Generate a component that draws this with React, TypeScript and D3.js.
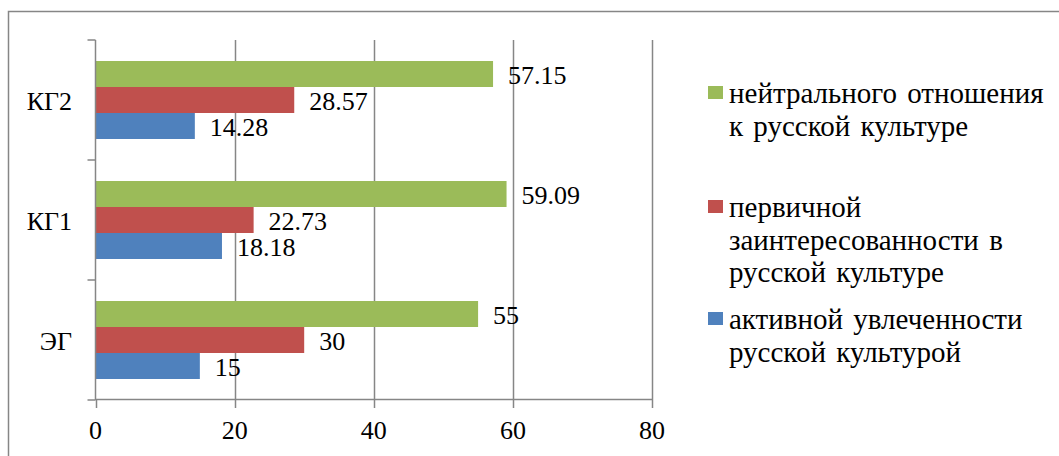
import React from 'react';
import * as d3 from 'd3';

const categories = ['КГ2', 'КГ1', 'ЭГ'];
const neutral = [57.15, 59.09, 55];
const primary = [28.57, 22.73, 30];
const active = [14.28, 18.18, 15];
const xTicks = [0, 20, 40, 60, 80];

const seriesKeys = ['neutral', 'primary', 'active'];
const seriesColors = ['#9BBB59', '#C0504D', '#4F81BD'];
const legendLines = [
  ['нейтрального отношения', 'к русской культуре'],
  ['первичной', 'заинтересованности в', 'русской культуре'],
  ['активной увлеченности', 'русской культурой'],
];

const width = 1059;
const height = 456;
const plot = { left: 95.5, right: 652, top: 40, bottom: 400 };
const font = "'Liberation Serif'";
const axisColor = '#868686';
const legendTop = [103, 217, 329];
const lineHeight = 32.5;

export default function App() {
  const values: Record<string, number[]> = { neutral, primary, active };

  const x = d3.scaleLinear().domain([0, 80]).range([plot.left, plot.right]);
  const y = d3
    .scaleBand<string>()
    .domain(categories)
    .range([plot.top, plot.bottom])
    .paddingInner(0.35)
    .paddingOuter(0.175);
  const inner = d3
    .scaleBand<string>()
    .domain(seriesKeys)
    .range([0, y.bandwidth()]);

  const step = y.step();
  const catTicks = d3.range(categories.length + 1).map((i) => plot.top + i * step);
  const txt = { fontFamily: font, fontSize: 26, fill: '#000' };
  const legTxt = { fontFamily: font, fontSize: 29, fill: '#000', wordSpacing: 3 };

  return (
    <svg
      width={width}
      height={height}
      style={{ position: 'absolute', left: 0, top: 0, background: '#fff' }}
    >
      <rect x={8.5} y={11.5} width={1200} height={600} fill="#fff" stroke={axisColor} strokeWidth={1.5} />

      {/* vertical gridlines */}
      {xTicks.slice(1).map((t) => (
        <line
          key={'g' + t}
          x1={Math.round(x(t)) + 0.5}
          x2={Math.round(x(t)) + 0.5}
          y1={plot.top}
          y2={plot.bottom}
          stroke={axisColor}
          strokeWidth={1.5}
        />
      ))}

      {/* bars */}
      {categories.map((c, ci) =>
        seriesKeys.map((k, si) => {
          const v = values[k][ci];
          const y0 = (y(c) ?? 0) + (inner(k) ?? 0);
          const bh = inner.bandwidth();
          return (
            <g key={c + k}>
              <rect
                x={x(0)}
                y={y0}
                width={x(v) - x(0)}
                height={bh}
                fill={seriesColors[si]}
              />
              <text x={x(v) + 15} y={y0 + bh / 2 + 10} style={txt}>
                {String(v)}
              </text>
            </g>
          );
        })
      )}

      {/* x axis */}
      <line x1={plot.left} x2={plot.right} y1={plot.bottom - 0.5} y2={plot.bottom - 0.5} stroke={axisColor} strokeWidth={1.5} />
      {xTicks.map((t) => (
        <g key={'x' + t}>
          <line
            x1={Math.round(x(t)) + 0.5}
            x2={Math.round(x(t)) + 0.5}
            y1={plot.bottom}
            y2={plot.bottom + 8}
            stroke={axisColor}
            strokeWidth={1.5}
          />
          <text x={x(t)} y={439} textAnchor="middle" style={txt}>
            {t}
          </text>
        </g>
      ))}

      {/* y axis */}
      <line x1={plot.left} x2={plot.left} y1={plot.top} y2={plot.bottom} stroke={axisColor} strokeWidth={1.5} />
      {catTicks.map((t) => (
        <line key={'yt' + t} x1={plot.left - 8} x2={plot.left} y1={t} y2={t} stroke={axisColor} strokeWidth={1.5} />
      ))}
      {categories.map((c) => (
        <text
          key={'yl' + c}
          x={72}
          y={(y(c) ?? 0) - step * 0.175 + step / 2 + 10}
          textAnchor="end"
          style={txt}
        >
          {c}
        </text>
      ))}

      {/* legend */}
      {legendLines.map((lines, i) => (
        <g key={'lg' + i}>
          <rect x={708} y={legendTop[i] - 17} width={15} height={13} fill={seriesColors[i]} />
          {lines.map((ln, j) => (
            <text key={j} x={729} y={legendTop[i] + j * lineHeight} style={legTxt}>
              {ln}
            </text>
          ))}
        </g>
      ))}
    </svg>
  );
}
